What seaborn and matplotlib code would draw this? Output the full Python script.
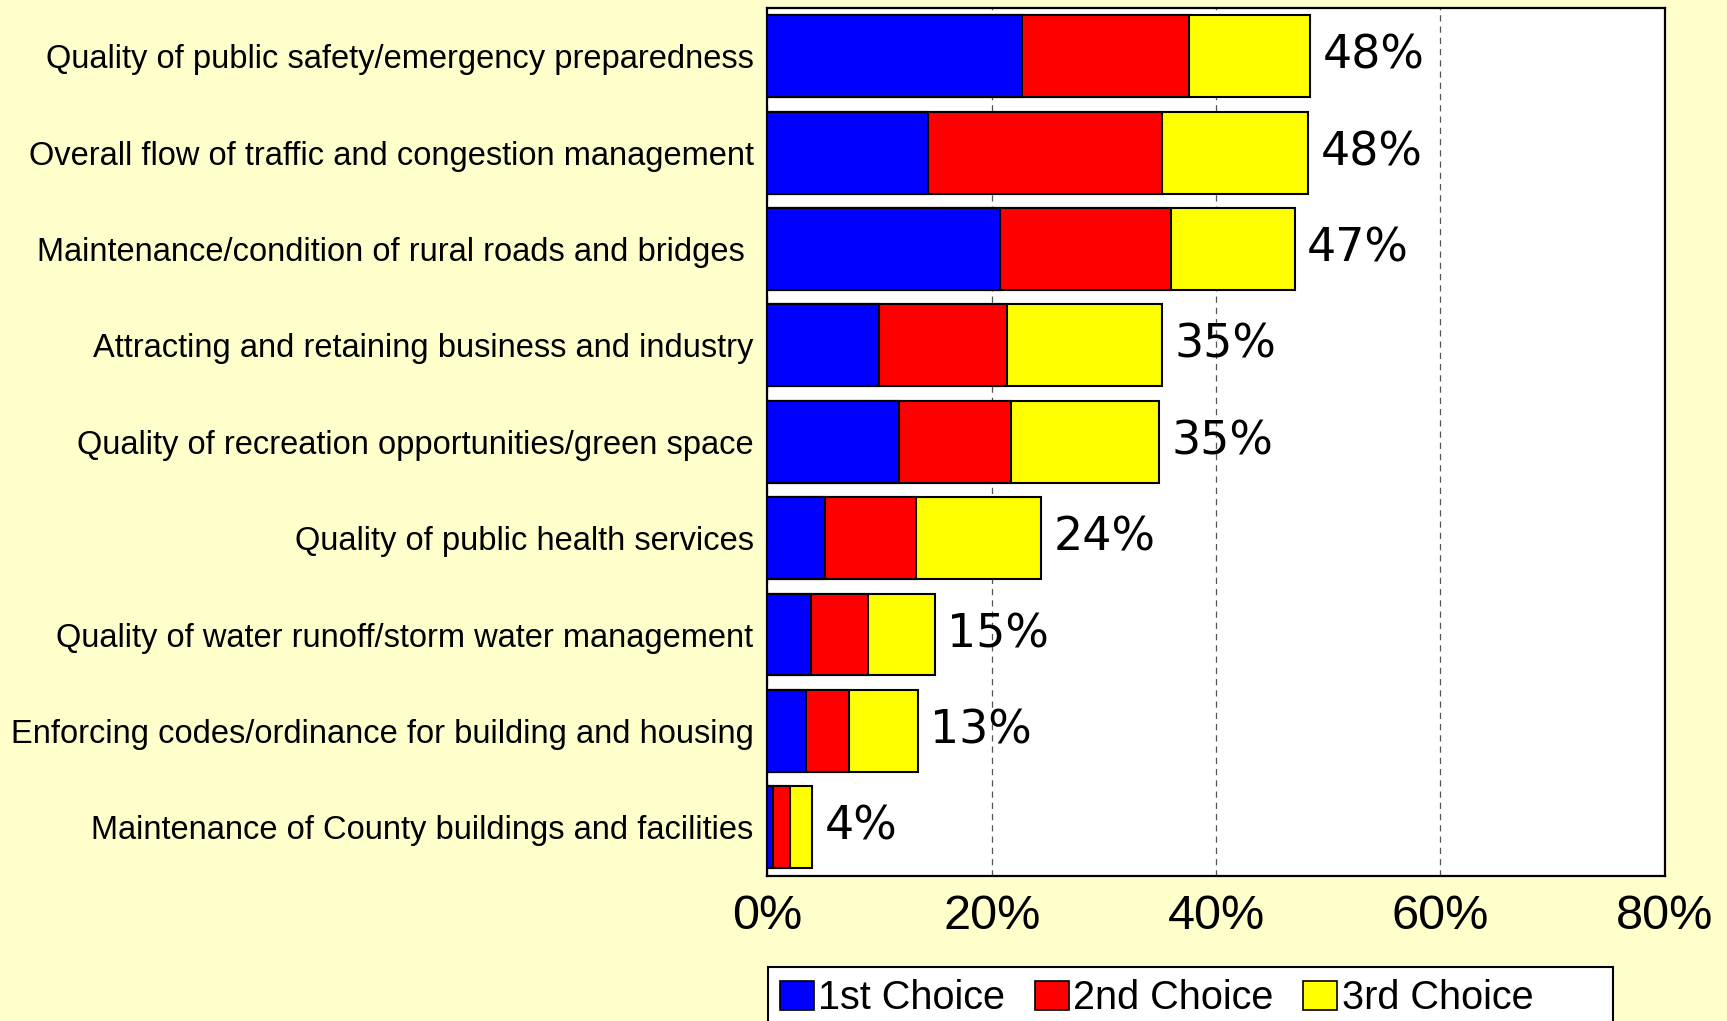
import numpy as np
import pandas as pd
import matplotlib.pyplot as plt
import seaborn as sns
from matplotlib.patches import Patch

categories = [
    "Quality of public safety/emergency preparedness",
    "Overall flow of traffic and congestion management",
    "Maintenance/condition of rural roads and bridges ",
    "Attracting and retaining business and industry",
    "Quality of recreation opportunities/green space",
    "Quality of public health services",
    "Quality of water runoff/storm water management",
    "Enforcing codes/ordinance for building and housing",
    "Maintenance of County buildings and facilities",
]
first_choice = [22.7, 14.3, 20.7, 9.9, 11.7, 5.1, 3.9, 3.4, 0.5]
second_choice = [14.9, 20.9, 15.3, 11.5, 10.0, 8.1, 5.1, 3.9, 1.5]
third_choice = [10.8, 13.0, 11.0, 13.8, 13.2, 11.2, 5.9, 6.1, 2.0]
series_names = ["1st Choice", "2nd Choice", "3rd Choice"]
series_colors = ["#0000FF", "#FF0000", "#FFFF00"]
x_ticks = [0, 20, 40, 60, 80]

df = pd.DataFrame({
    "item": categories,
    "c1": first_choice,
    "c2": second_choice,
    "c3": third_choice,
})
df["cum1"] = df["c1"]
df["cum2"] = df["c1"] + df["c2"]
df["total"] = df["cum2"] + df["c3"]

sns.set_theme(style="white")
plt.rcParams['font.family'] = ['Liberation Sans', 'DejaVu Sans']
plt.rcParams['text.color'] = 'black'
plt.rcParams['xtick.color'] = 'black'
plt.rcParams['ytick.color'] = 'black'

fig = plt.figure(figsize=(17.27, 10.21), dpi=100, facecolor="#FFFFCC")
ax = fig.add_axes([0.4444, 0.1425, 0.9639 - 0.4444, 0.9922 - 0.1425])
ax.set_facecolor("white")

# stacked bars drawn as cumulative totals, longest first
for col, color in zip(["total", "cum2", "cum1"], series_colors[::-1]):
    sns.barplot(data=df, x=col, y="item", order=categories, orient="h",
                color=color, width=0.85, edgecolor="black", linewidth=1.5,
                saturation=1, ax=ax, zorder=3)

for i, tot in enumerate(df["total"]):
    ax.annotate(f"{round(tot)}%", xy=(tot, i), xytext=(9, 0),
                textcoords="offset points", va="center", ha="left",
                fontsize=33, family="DejaVu Sans", color="black")

ax.set_xlim(0, 80)
ax.set_ylim(8.5, -0.5)
ax.set_xticks(x_ticks)
ax.set_xticklabels([f"{t}%" for t in x_ticks], fontsize=35, color="black")
ax.tick_params(axis="x", length=0, pad=13, labelcolor="black")
ax.tick_params(axis="y", length=0, pad=10, labelsize=23.5, labelcolor="black")
ax.set_xlabel("")
ax.set_ylabel("")
ax.set_axisbelow(True)
ax.grid(axis="x", linestyle=(0, (5, 4)), color="#555555", linewidth=0.9)
ax.grid(axis="y", visible=False)
for s in ax.spines.values():
    s.set_visible(True)
    s.set_color("black")
    s.set_linewidth(1.6)

handles = [Patch(facecolor=c, edgecolor="black", linewidth=1.2) for c in series_colors]
# blank trailing slot keeps the box as wide as the original
handles.append(Patch(facecolor="none", edgecolor="none"))
leg = fig.legend(handles, series_names + [""], loc="upper left", ncol=4,
                 bbox_to_anchor=(768 / 1727, 1 - 967 / 1021),
                 fontsize=28.5, frameon=True, fancybox=False, shadow=False,
                 handlelength=0.85, handleheight=0.75, handletextpad=0.12,
                 columnspacing=0.75, borderpad=0.3, borderaxespad=0,
                 labelcolor="black")
leg.get_frame().set_edgecolor("black")
leg.get_frame().set_linewidth(1.5)
leg.get_frame().set_facecolor("white")
leg.get_frame().set_alpha(1)

fig.savefig("out.png", dpi=100, facecolor=fig.get_facecolor())
